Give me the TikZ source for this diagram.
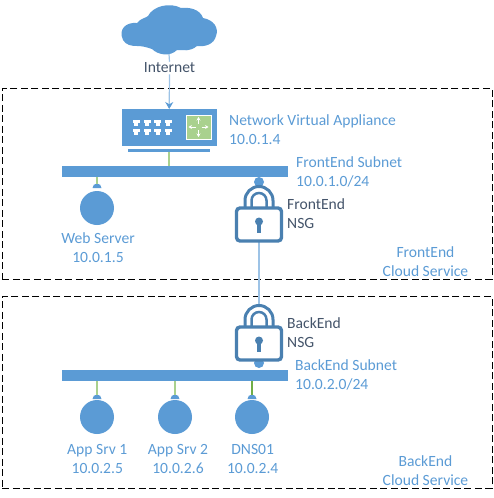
\documentclass[tikz,border=0pt]{standalone}
\usepackage{fontspec}
\setmainfont{Carlito}
\usetikzlibrary{arrows.meta}
\definecolor{azblue}{HTML}{5B9BD5}
\definecolor{lockblue}{HTML}{4A80B0}
\definecolor{txtblue}{HTML}{5B9BD5}
\definecolor{txtdark}{HTML}{44546A}
\definecolor{lnblue}{HTML}{9DC3E6}
\definecolor{azgreen}{HTML}{A9D18E}
\definecolor{darkgreen}{HTML}{70AD47}
\tikzset{
  x=1pt,y=-1pt,
  lbl/.style={font=\fontsize{15.6}{19}\selectfont,text=txtblue,align=center,inner sep=0pt},
  lbll/.style={lbl,align=left,anchor=west},
  nsglbl/.style={font=\fontsize{15.6}{19}\selectfont,text=txtdark,align=left,anchor=west,inner sep=0pt},
  zone/.style={draw=black,dashed,dash pattern=on 7pt off 3.5pt,line width=0.9pt},
  subnet/.style={fill=azblue,draw=none},
  srv/.style={circle,fill=azblue,draw=none,minimum size=34pt,inner sep=0pt},
  conn/.style={line width=1.2pt},
}
\newcommand{\lockshape}[2]{%
  \begin{scope}[shift={(#1,#2)}]
    \draw[lockblue,line width=3pt,fill=white] (-14,26) -- (-14,15.5) arc[start angle=180,end angle=0,x radius=14,y radius=-14] -- (14,26);
    \draw[lockblue,line width=2.5pt] (-7.5,26) -- (-7.5,15.5) arc[start angle=180,end angle=0,x radius=7.5,y radius=-7.5] -- (7.5,26);
    \fill[white,draw=lockblue,line width=3.4pt,rounded corners=3.5pt] (-22.5,23) rectangle (22.5,56);
    \fill[lockblue] (0,36.5) circle[radius=4];
    \fill[lockblue] (-1.6,37) -- (1.6,37) -- (1.6,48) -- (-1.6,48) -- cycle;
  \end{scope}}
\begin{document}
\begin{tikzpicture}
\useasboundingbox (0,0) rectangle (493,498);
% zones
\node[zone,minimum width=489.5pt,minimum height=191pt,anchor=north west,inner sep=0pt] (fz) at (2,88) {};
\node[zone,minimum width=489.5pt,minimum height=192pt,anchor=north west,inner sep=0pt] (bz) at (2,296) {};
% cloud
\fill[azblue] (123,40) .. controls (118,29) and (126,22) .. (137,23)
  .. controls (141,18) and (146,18) .. (148,16)
  .. controls (153,6) and (170,2) .. (181,8)
  .. controls (189,7) and (200,9) .. (203,18)
  .. controls (214,20) and (219,28) .. (216,36)
  .. controls (214,44) and (206,47) .. (197,46)
  .. controls (190,52) and (182,50) .. (177,50)
  .. controls (170,57) and (158,55) .. (152,49)
  .. controls (146,47) and (142,46) .. (137,46)
  .. controls (131,46) and (126,45) .. (123,40) -- cycle;
\coordinate (cloudb) at (169,54);
\node[lbl,text=txtdark,fill=white,inner ysep=1pt] (inet) at (169.5,68) {Internet};
\draw[conn,lnblue] (cloudb) -- (inet.north);
% NVA
\node[fill=azblue,minimum width=95pt,minimum height=37pt,inner sep=0pt,anchor=north west] (nva) at (121.5,109) {};
\fill[azblue] (128,149) rectangle (210,151.5);
\node[fill=azgreen,draw=white,line width=0.6pt,minimum width=25pt,minimum height=24pt,inner sep=0pt] (rt) at (198.5,127) {};
\foreach \px in {136,147,157.5,168}{
  \foreach \py in {122,131}{
    \fill[white] (\px-3.5,\py-2) rectangle (\px+3.5,\py+1);
    \fill[white] (\px-2,\py+1) rectangle (\px+2,\py+3.5);
  }}
\foreach \ang in {0,90,180,270}{
  \begin{scope}[shift={(198.5,127)},rotate=\ang]
    \draw[white,line width=1pt,-{Stealth[length=3.5pt,width=4pt]}] (0,-3) -- (0,-10);
  \end{scope}}
\draw[conn,lnblue,-{Stealth[length=7pt,width=8pt,color=azblue]}] (inet.south) -- (nva.north);
% subnet bars
\node[subnet,minimum width=226pt,minimum height=10.5pt,inner sep=0pt,anchor=north west] (fbar) at (62,166) {};
\node[subnet,minimum width=226pt,minimum height=11pt,inner sep=0pt,anchor=north west] (bbar) at (62,369.5) {};
\coordinate (nvab) at (169,152);
\draw[conn,azgreen] (nvab) -- (fbar.north -| nvab);
% front servers
\node[srv] (web) at (97,208) {};
\fill[azblue] (92.5,188) arc[start angle=180,end angle=0,x radius=4.5,y radius=-4.5] -- cycle;
\draw[conn,azgreen] (fbar.south -| web) -- (97,184);
% back servers
\foreach \nm/\cx in {as1/97,as2/175,dns/252}{
  \node[srv] (\nm) at (\cx,417) {};
  \fill[azblue] (\cx-4.5,399) arc[start angle=180,end angle=0,x radius=4.5,y radius=-4.5] -- cycle;
}
\draw[conn,azgreen] (bbar.south -| as1) -- (97,395);
\draw[conn,azgreen] (bbar.south -| as2) -- (175,395);
\draw[conn,darkgreen] (bbar.south -| dns) -- (252,395);
% NSG
\coordinate (fl) at (259,240);
\coordinate (bl) at (259,305);
\draw[conn,lnblue] (fl) -- (bl);
\fill[azblue] (259,182) circle[radius=5];
\fill[azblue] (259,363) circle[radius=5];
\lockshape{259}{185}
\lockshape{259}{304}
% labels
\node[lbll] (nvat) at (229,130) {Network Virtual Appliance\\10.0.1.4};
\node[lbll] (fst) at (296,171.5) {FrontEnd Subnet\\10.0.1.0/24};
\node[nsglbl] (fnsg) at (287,213.5) {FrontEnd\\NSG};
\node[lbl] (webt) at (98,247.5) {Web Server\\10.0.1.5};
\node[lbl] (fcs) at (425.5,261.5) {FrontEnd\\Cloud Service};
\node[nsglbl] (bnsg) at (287,332.5) {BackEnd\\NSG};
\node[lbll] (bst) at (295,374.5) {BackEnd Subnet\\10.0.2.0/24};
\node[lbl] (a1t) at (97.3,458.5) {App Srv 1\\10.0.2.5};
\node[lbl] (a2t) at (178,458.5) {App Srv 2\\10.0.2.6};
\node[lbl] (dnst) at (252.7,458.5) {DNS01\\10.0.2.4};
\node[lbl] (bcs) at (425.5,470.5) {BackEnd\\Cloud Service};
\end{tikzpicture}
\end{document}
